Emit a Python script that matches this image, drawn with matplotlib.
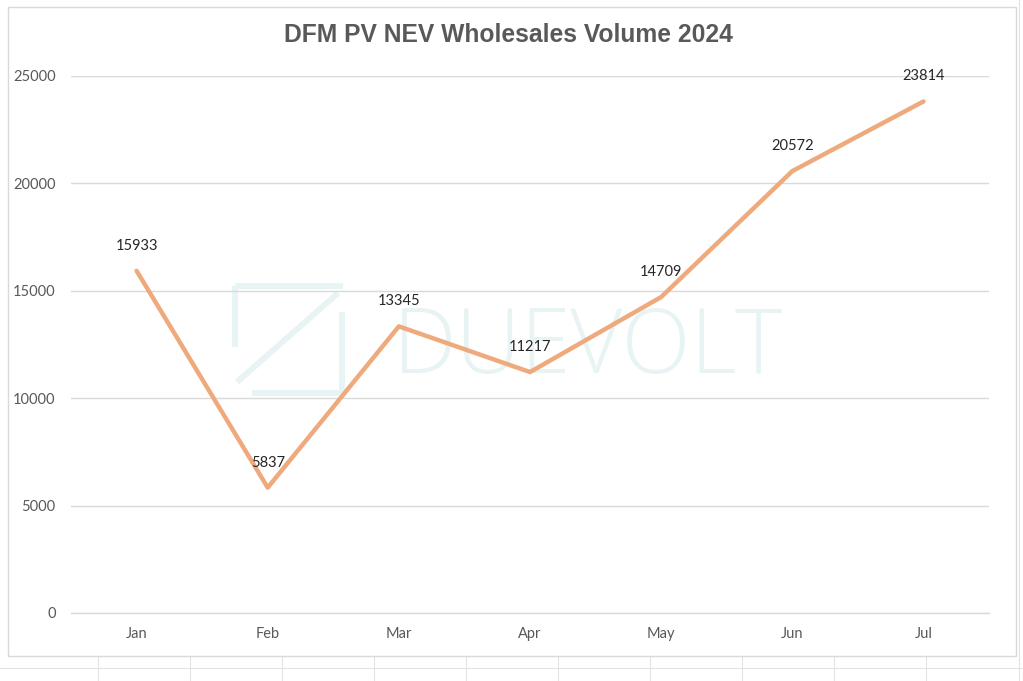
import matplotlib
matplotlib.use("Agg")
import matplotlib.pyplot as plt
from matplotlib.patches import Rectangle
from matplotlib.lines import Line2D

months = ["Jan", "Feb", "Mar", "Apr", "May", "Jun", "Jul"]
volumes = [15933, 5837, 13345, 11217, 14709, 20572, 23814]
yticks = [0, 5000, 10000, 15000, 20000, 25000]
title = "DFM PV NEV Wholesales Volume 2024"

W, H = 1023, 681
fig = plt.figure(figsize=(W / 100, H / 100), dpi=100)
fig.patch.set_facecolor("white")

def fx(px):
    return px / W

def fy(py):
    return 1 - py / H

# spreadsheet cell grid outside chart area
for x in [98, 190, 282, 374, 466, 558, 650, 742, 834, 926]:
    fig.add_artist(Line2D([fx(x), fx(x)], [fy(656), fy(681)], color="#e3e3e3", lw=0.8, zorder=-3))
fig.add_artist(Line2D([0, 1], [fy(668), fy(668)], color="#e3e3e3", lw=0.8, zorder=-3))
fig.add_artist(Line2D([fx(1019), fx(1019)], [0, 1], color="#e3e3e3", lw=0.8, zorder=-3))
# chart frame
fig.add_artist(Rectangle((fx(8), fy(656)), fx(1016) - fx(8), fy(7) - fy(656),
                         fill=True, facecolor="white", edgecolor="#d9d9d9", lw=1.0, zorder=-2))

ax = fig.add_axes([fx(71), fy(613), fx(989) - fx(71), fy(76) - fy(613)])
ax.set_facecolor("none")
ax.set_zorder(1)

x = list(range(len(months)))
ax.set_xlim(-0.5, len(months) - 0.5)
ax.set_ylim(0, 25000)
ax.set_yticks(yticks)
ax.set_yticklabels([str(v) for v in yticks], family="Lato")
ax.set_xticks(x)
ax.set_xticklabels(months, family="Lato")
ax.grid(axis="y", color="#d9d9d9", lw=1.0)
ax.set_axisbelow(True)
for s in ["top", "right", "left"]:
    ax.spines[s].set_visible(False)
ax.spines["bottom"].set_color("#d9d9d9")
ax.spines["bottom"].set_linewidth(1.0)
ax.tick_params(axis="both", length=0, colors="#595959", labelsize=10.5)
ax.tick_params(axis="y", pad=11)
ax.tick_params(axis="x", pad=10)

# watermark logo (behind the axes)
wm = "#e8f3f4"
lw_wm = 4.3
segs = [
    ([235, 343], [286, 286]),
    ([235, 235], [286, 347]),
    ([237, 338], [382, 293]),
    ([342, 342], [312, 393]),
    ([252, 342], [393, 393]),
]
for xs, ys in segs:
    fig.add_artist(Line2D([fx(v) for v in xs], [fy(v) for v in ys], color=wm, lw=lw_wm,
                          solid_capstyle="butt", zorder=-1))
fig.text(fx(588), fy(350), "DUEVOLT", color=wm, fontsize=65, ha="center", va="center",
         family="Open Sans", fontweight="light", zorder=-1)

ax.plot(x, volumes, color="#EEAA7C", lw=3.2, solid_capstyle="round", zorder=3)
for xi, v in zip(x, volumes):
    ax.annotate(str(v), (xi, v), xytext=(0, 18), textcoords="offset points",
                ha="center", va="center", fontsize=10.5, color="#262626", family="Lato")

fig.text(fx(508), fy(35), title, ha="center", va="center", fontsize=17.7,
         fontweight="bold", color="#595959", family="Liberation Sans")

fig.savefig("out.png", dpi=100)
